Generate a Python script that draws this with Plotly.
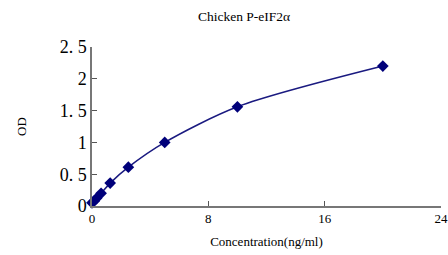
import plotly.graph_objects as go

conc = [0, 0.156, 0.3125, 0.625, 1.25, 2.5, 5, 10, 20]
od = [0.05, 0.08, 0.12, 0.2, 0.36, 0.61, 1.0, 1.56, 2.2]
ytick_vals = [0, 0.5, 1, 1.5, 2, 2.5]
ytick_text = ["0", "0. 5", "1", "1. 5", "2", "2. 5"]
xtick_vals = [0, 8, 16, 24]

fig = go.Figure()
fig.add_trace(go.Scatter(
    x=conc, y=od, mode="lines+markers",
    line=dict(color="#1a1a80", width=1.5, shape="spline", smoothing=0.8),
    marker=dict(symbol="diamond", size=9, color="#00007a"),
    cliponaxis=False,
))
fig.update_layout(
    width=448, height=255,
    margin=dict(l=92, r=7, t=47, b=49, autoexpand=False),
    paper_bgcolor="white", plot_bgcolor="white",
    showlegend=False,
    title=dict(text="Chicken P-eIF2α", x=244/448, xanchor="center", y=1-16/255, yanchor="middle",
               font=dict(family="Liberation Serif", size=13.5, color="black")),
    font=dict(family="Liberation Serif", color="black"),
)
fig.update_xaxes(range=[0, 24], tickvals=xtick_vals, ticks="inside", ticklen=5, tickcolor="#555",
                 showline=True, linecolor="#777", linewidth=1.5, showgrid=False, zeroline=False,
                 automargin=False,
                 tickfont=dict(size=13, family="Liberation Serif"),
                 title=dict(text="Concentration(ng/ml)", font=dict(size=13, family="Liberation Serif"), standoff=12))
fig.update_yaxes(range=[0, 2.5], tickvals=ytick_vals, ticktext=ytick_text, ticks="inside", ticklen=5, tickcolor="#555",
                 showline=True, linecolor="#777", linewidth=1.5, showgrid=False, zeroline=False,
                 automargin=False,
                 tickfont=dict(size=18, family="Liberation Serif"),
                 title=dict(text="OD", font=dict(size=13, family="Liberation Serif"), standoff=30))
fig.write_html("out.html", config={"displayModeBar": False},
               post_script="document.body.style.margin='0';")
